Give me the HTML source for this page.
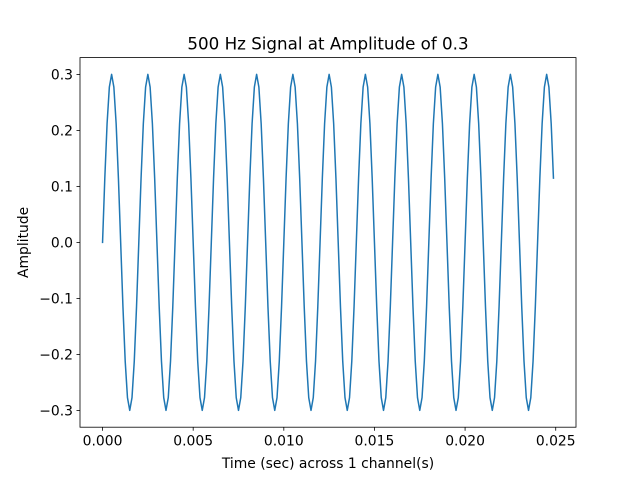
<!DOCTYPE html>
<html><head><meta charset="utf-8"><style>
html,body{margin:0;padding:0;background:#fff;}
svg{display:block;font-family:"DejaVu Sans","Liberation Sans",sans-serif;}
</style></head><body>
<svg id="chart" width="640" height="480">
<rect x="0" y="0" width="640" height="480" fill="#fff"/>
<text x="328" y="49.5" text-anchor="middle" font-size="16.7" fill="#000">500 Hz Signal at Amplitude of 0.3</text>
<g id="plot"></g>
<text x="328" y="468" text-anchor="middle" font-size="13.9" fill="#000">Time (sec) across 1 channel(s)</text>
<text transform="translate(28,242.4) rotate(-90)" text-anchor="middle" font-size="13.9" fill="#000">Amplitude</text>
</svg>
<script>
const sampleRate = 8000;
const amplitudes = [
0,0.1148,0.2121,0.2772,0.3,0.2772,0.2121,0.1148,0,-0.1148,-0.2121,-0.2772,-0.3,-0.2772,-0.2121,-0.1148,
0,0.1148,0.2121,0.2772,0.3,0.2772,0.2121,0.1148,0,-0.1148,-0.2121,-0.2772,-0.3,-0.2772,-0.2121,-0.1148,
0,0.1148,0.2121,0.2772,0.3,0.2772,0.2121,0.1148,0,-0.1148,-0.2121,-0.2772,-0.3,-0.2772,-0.2121,-0.1148,
0,0.1148,0.2121,0.2772,0.3,0.2772,0.2121,0.1148,0,-0.1148,-0.2121,-0.2772,-0.3,-0.2772,-0.2121,-0.1148,
0,0.1148,0.2121,0.2772,0.3,0.2772,0.2121,0.1148,0,-0.1148,-0.2121,-0.2772,-0.3,-0.2772,-0.2121,-0.1148,
0,0.1148,0.2121,0.2772,0.3,0.2772,0.2121,0.1148,0,-0.1148,-0.2121,-0.2772,-0.3,-0.2772,-0.2121,-0.1148,
0,0.1148,0.2121,0.2772,0.3,0.2772,0.2121,0.1148,0,-0.1148,-0.2121,-0.2772,-0.3,-0.2772,-0.2121,-0.1148,
0,0.1148,0.2121,0.2772,0.3,0.2772,0.2121,0.1148,0,-0.1148,-0.2121,-0.2772,-0.3,-0.2772,-0.2121,-0.1148,
0,0.1148,0.2121,0.2772,0.3,0.2772,0.2121,0.1148,0,-0.1148,-0.2121,-0.2772,-0.3,-0.2772,-0.2121,-0.1148,
0,0.1148,0.2121,0.2772,0.3,0.2772,0.2121,0.1148,0,-0.1148,-0.2121,-0.2772,-0.3,-0.2772,-0.2121,-0.1148,
0,0.1148,0.2121,0.2772,0.3,0.2772,0.2121,0.1148,0,-0.1148,-0.2121,-0.2772,-0.3,-0.2772,-0.2121,-0.1148,
0,0.1148,0.2121,0.2772,0.3,0.2772,0.2121,0.1148,0,-0.1148,-0.2121,-0.2772,-0.3,-0.2772,-0.2121,-0.1148,
0,0.1148,0.2121,0.2772,0.3,0.2772,0.2121,0.1148
];
const xTicks = [0, 0.005, 0.010, 0.015, 0.020, 0.025];
const xTickLabels = ["0.000","0.005","0.010","0.015","0.020","0.025"];
const yTicks = [-0.3,-0.2,-0.1,0,0.1,0.2,0.3];
const yTickLabels = ["\u22120.3","\u22120.2","\u22120.1","0.0","0.1","0.2","0.3"];

const L=80,R=576,T=57.6,B=427.2;
const ns="http://www.w3.org/2000/svg";
const times = amplitudes.map((v,i)=>i/sampleRate);
const tMin=Math.min(...times), tMax=Math.max(...times);
const tPad=(tMax-tMin)*0.05;
const yMinD=Math.min(...amplitudes), yMaxD=Math.max(...amplitudes);
const yPad=(yMaxD-yMinD)*0.05;
const x0=tMin-tPad, x1=tMax+tPad, y0=yMinD-yPad, y1=yMaxD+yPad;
const xs=t=>L+(t-x0)/(x1-x0)*(R-L);
const ys=v=>B-(v-y0)/(y1-y0)*(B-T);
const g=document.getElementById('plot');
function mk(tag,attrs){const e=document.createElementNS(ns,tag);for(const k in attrs)e.setAttribute(k,attrs[k]);g.appendChild(e);return e;}

const d=amplitudes.map((v,i)=>(i?'L':'M')+xs(times[i]).toFixed(2)+','+ys(v).toFixed(2)).join('');
const line=mk('path',{d:d,fill:'none',stroke:'#1f77b4','stroke-width':1.5,'stroke-linejoin':'round','stroke-linecap':'square'});



const frame=mk('rect',{x:L,y:T,width:R-L,height:B-T,fill:'none',stroke:'#000','stroke-width':0.8});



xTicks.forEach((t,i)=>{
  const x=xs(t);
  const tk=mk('line',{x1:x,x2:x,y1:B,y2:B+3.5,stroke:'#000','stroke-width':0.8});
  
  
  const tx=mk('text',{x:x,y:B+18.5,'text-anchor':'middle','font-size':13.9});
  tx.textContent=xTickLabels[i];
  
  
});
yTicks.forEach((v,i)=>{
  const y=ys(v);
  const tk=mk('line',{x1:L-3.5,x2:L,y1:y,y2:y,stroke:'#000','stroke-width':0.8});
  
  
  const tx=mk('text',{x:L-7,y:y+5,'text-anchor':'end','font-size':13.9});
  tx.textContent=yTickLabels[i];
  
  
});
</script>
</body></html>
